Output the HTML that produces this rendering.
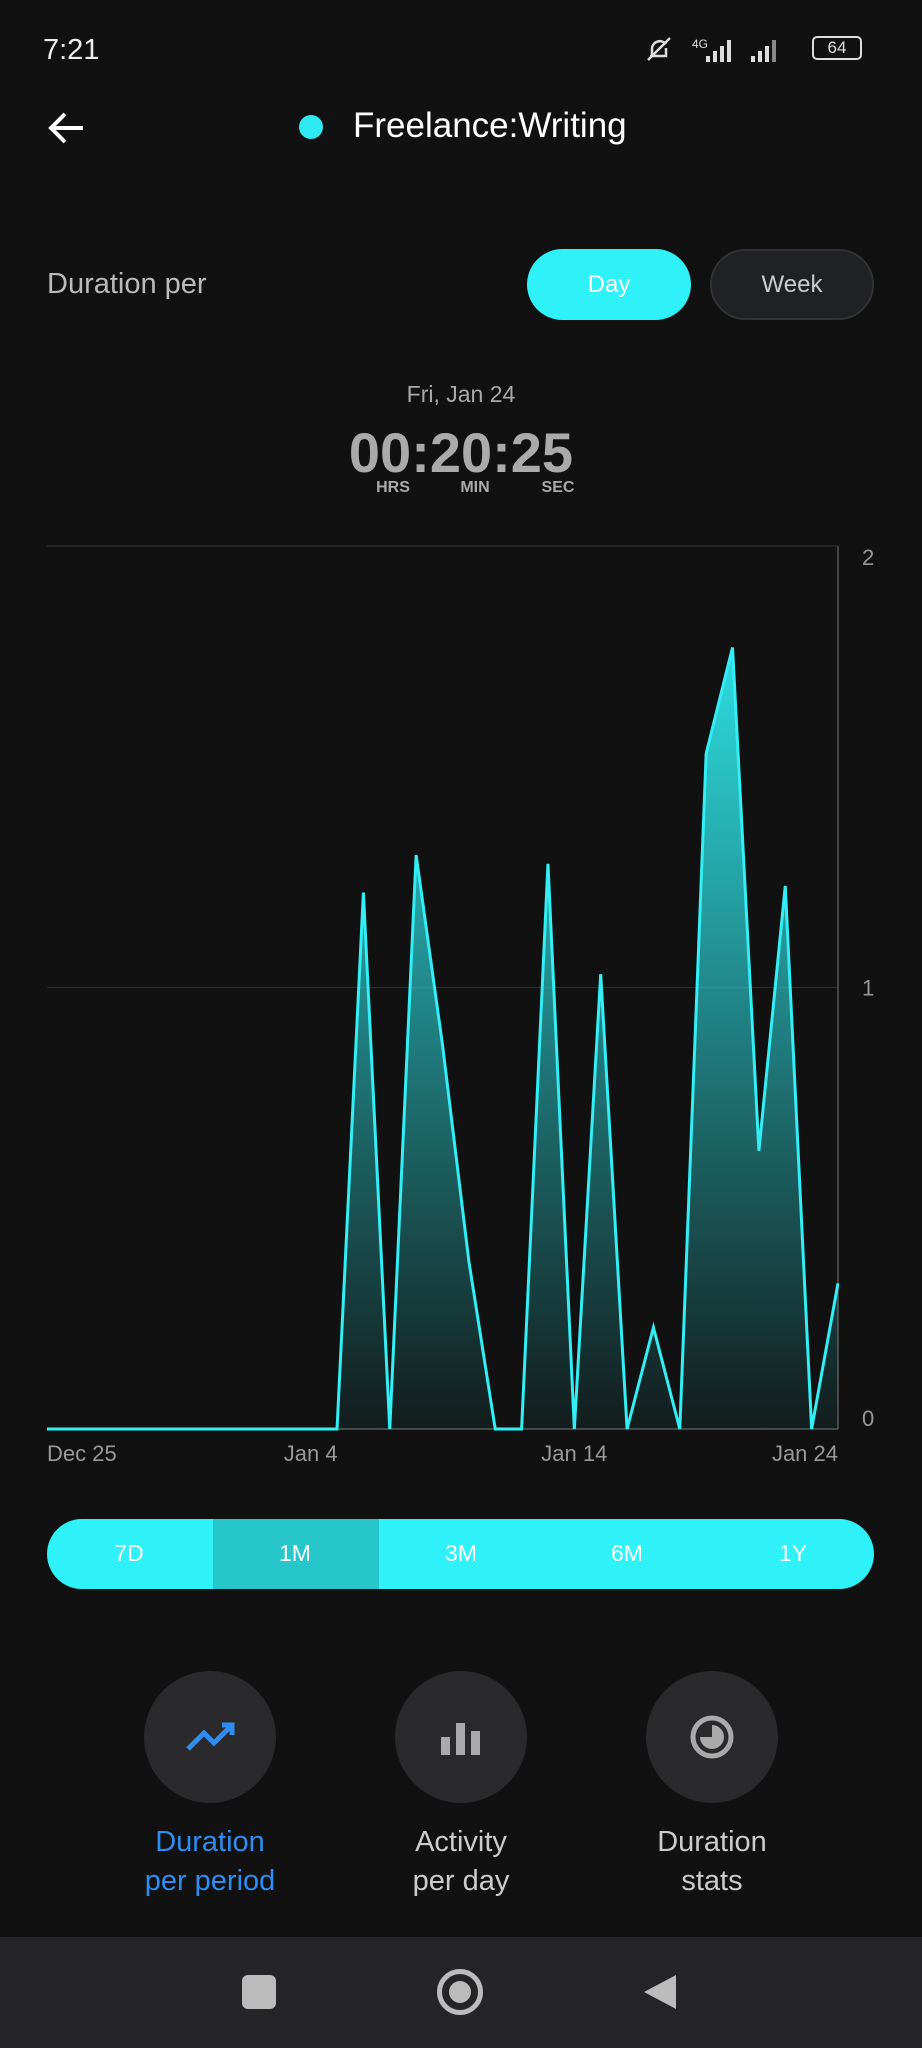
<!DOCTYPE html>
<html><head><meta charset="utf-8">
<style>
*{margin:0;padding:0;box-sizing:border-box}
body{width:922px;height:2048px;background:#111111;font-family:"Liberation Sans",sans-serif;position:relative;overflow:hidden;color:#ddd}
.abs{position:absolute}
</style></head>
<body>
<div class="abs" style="left:43px;top:34px;font-size:29px;color:#eee">7:21</div>
<div class="abs" style="left:640px;top:34px;width:240px;height:34px">
  <svg class="abs" style="left:0;top:0" width="170" height="34">
    <path d="M8 26L30 4M12 22V14A8 8 0 0 1 26 10M26 14V22H10" stroke="#ddd" stroke-width="2.5" fill="none"/>
    <text x="52" y="14" fill="#ddd" font-size="12" font-family="Liberation Sans">4G</text>
    <rect x="66" y="22" width="4" height="6" fill="#ddd"/><rect x="73" y="17" width="4" height="11" fill="#ddd"/><rect x="80" y="12" width="4" height="16" fill="#ddd"/><rect x="87" y="6" width="4" height="22" fill="#ddd"/>
    <rect x="111" y="22" width="4" height="6" fill="#ddd"/><rect x="118" y="17" width="4" height="11" fill="#ddd"/><rect x="125" y="12" width="4" height="16" fill="#ddd"/><rect x="132" y="6" width="4" height="22" fill="#888"/>
  </svg>
  <span style="position:absolute;left:172px;top:2px;width:50px;height:24px;border:2px solid #ddd;border-radius:5px;font-size:17px;text-align:center;line-height:20px;color:#ddd">64</span>
</div>
<svg class="abs" style="left:45px;top:108px" width="44" height="40"><path d="M38 20H6M20 6L6 20L20 34" stroke="#fff" stroke-width="4" fill="none"/></svg>
<div class="abs" style="left:299px;top:115px;width:24px;height:24px;border-radius:50%;background:#2ee8f2"></div>
<div class="abs" style="left:353px;top:106px;font-size:35px;color:#fff">Freelance:Writing</div>
<div class="abs" style="left:47px;top:268px;font-size:29px;color:#bbb">Duration per</div>
<div class="abs" style="left:527px;top:249px;width:164px;height:71px;border-radius:36px;background:#2ef2f7;color:#fff;font-size:24px;text-align:center;line-height:71px">Day</div>
<div class="abs" style="left:710px;top:249px;width:164px;height:71px;border-radius:36px;background:#202124;border:2px solid #333;color:#ccc;font-size:24px;text-align:center;line-height:67px">Week</div>
<div class="abs" style="left:0;width:922px;top:381px;text-align:center;font-size:23px;color:#aaa">Fri, Jan 24</div>
<div class="abs" style="left:0;width:922px;top:420px;text-align:center;font-size:56px;font-weight:bold;color:#aaa">00:20:25</div>
<div class="abs" style="left:373px;top:479px;width:40px;text-align:center;font-size:16px;font-weight:bold;color:#aaa">HRS</div>
<div class="abs" style="left:455px;top:479px;width:40px;text-align:center;font-size:16px;font-weight:bold;color:#aaa">MIN</div>
<div class="abs" style="left:538px;top:479px;width:40px;text-align:center;font-size:16px;font-weight:bold;color:#aaa">SEC</div>

<svg class="abs" id="chart" style="left:0;top:0" width="922" height="1480">
<defs><linearGradient id="g" x1="0" y1="0" x2="0" y2="1"><stop offset="0" stop-color="#2ee8ec" stop-opacity="0.95"/><stop offset="1" stop-color="#2ee8ec" stop-opacity="0.05"/></linearGradient></defs>
</svg>

<div class="abs" style="left:47px;top:1519px;width:827px;height:70px;border-radius:35px;background:#2ef2f7;overflow:hidden">
  <div class="abs" style="left:166px;top:0;width:166px;height:70px;background:#27c6ca"></div>
</div>
<div class="abs" style="left:89px;top:1540px;width:80px;text-align:center;font-size:23px;color:#fff">7D</div>
<div class="abs" style="left:255px;top:1540px;width:80px;text-align:center;font-size:23px;color:#fff">1M</div>
<div class="abs" style="left:421px;top:1540px;width:80px;text-align:center;font-size:23px;color:#fff">3M</div>
<div class="abs" style="left:587px;top:1540px;width:80px;text-align:center;font-size:23px;color:#fff">6M</div>
<div class="abs" style="left:753px;top:1540px;width:80px;text-align:center;font-size:23px;color:#fff">1Y</div>

<div class="abs" style="left:144px;top:1671px;width:132px;height:132px;border-radius:50%;background:#2a2a2d">
 <svg width="132" height="132"><path d="M44 78L60 62L70 72L88 54M78 54H88V64" stroke="#2f8cf0" stroke-width="5" fill="none"/></svg></div>
<div class="abs" style="left:395px;top:1671px;width:132px;height:132px;border-radius:50%;background:#2a2a2d">
 <svg width="132" height="132"><rect x="46" y="66" width="9" height="18" fill="#aaa"/><rect x="61" y="52" width="9" height="32" fill="#aaa"/><rect x="76" y="60" width="9" height="24" fill="#aaa"/></svg></div>
<div class="abs" style="left:646px;top:1671px;width:132px;height:132px;border-radius:50%;background:#2a2a2d">
 <svg width="132" height="132"><circle cx="66" cy="66" r="19" stroke="#aaa" stroke-width="5" fill="none"/><path d="M66 54A12 12 0 1 1 54 66L66 66Z" fill="#aaa"/></svg></div>
<div class="abs" style="left:110px;top:1823px;width:200px;text-align:center;font-size:29px;line-height:39px;color:#2f8cf0">Duration<br>per period</div>
<div class="abs" style="left:361px;top:1823px;width:200px;text-align:center;font-size:29px;line-height:39px;color:#ccc">Activity<br>per day</div>
<div class="abs" style="left:612px;top:1823px;width:200px;text-align:center;font-size:29px;line-height:39px;color:#ccc">Duration<br>stats</div>

<div class="abs" style="left:0;top:1937px;width:922px;height:111px;background:#252527">
 <div class="abs" style="left:242px;top:38px;width:34px;height:34px;border-radius:6px;background:#bbb"></div>
 <div class="abs" style="left:437px;top:32px;width:46px;height:46px;border-radius:50%;border:5px solid #bbb"><div style="margin:7px;width:22px;height:22px;border-radius:50%;background:#bbb"></div></div>
 <svg class="abs" style="left:642px;top:36px" width="36" height="38"><path d="M34 2V36L2 19Z" fill="#bbb"/></svg>
</div>

<script>
const days = ["Dec 25","Dec 26","Dec 27","Dec 28","Dec 29","Dec 30","Dec 31","Jan 1","Jan 2","Jan 3","Jan 4","Jan 5","Jan 6","Jan 7","Jan 8","Jan 9","Jan 10","Jan 11","Jan 12","Jan 13","Jan 14","Jan 15","Jan 16","Jan 17","Jan 18","Jan 19","Jan 20","Jan 21","Jan 22","Jan 23","Jan 24"];
const hours = [0,0,0,0,0,0,0,0,0,0,0,0,1.215,0,1.30,0.87,0.38,0,0,1.28,0,1.03,0,0.23,0,1.53,1.77,0.63,1.23,0,0.33];
const yTicks = [0,1,2];
const xTickLabels = ["Dec 25","Jan 4","Jan 14","Jan 24"];

const svg = document.getElementById('chart');
const NS = 'http://www.w3.org/2000/svg';
const L = 47, R = 838, T = 546, B = 1429, yMax = 2;
const x = i => L + (R - L) * i / (days.length - 1);
const y = v => B - (B - T) * v / yMax;
function mk(tag, attrs){const e=document.createElementNS(NS,tag);for(const k in attrs)e.setAttribute(k,attrs[k]);svg.appendChild(e);return e;}

yTicks.forEach(t=>{
  const g=mk('line',{x1:L,x2:R,y1:y(t),y2:y(t),stroke:'#2c2c2c','stroke-width':1.2});
  
  
  const off = (2*t/yMax - 1) * 11;
  const tx=mk('text',{x:862,y:y(t)+off+8,fill:'#999','font-size':22,'font-family':'Liberation Sans'});
  tx.textContent=t;
  
  
});
const ax=mk('line',{x1:R,x2:R,y1:T,y2:B,stroke:'#555','stroke-width':1.5});


const bx=mk('line',{x1:L,x2:R,y1:B,y2:B,stroke:'#555','stroke-width':1.5});



let pts = hours.map((v,i)=>x(i)+','+y(v)).join(' ');
const area=mk('polygon',{points:x(0)+','+B+' '+pts+' '+x(hours.length-1)+','+B,fill:'url(#g)'});


const line=mk('polyline',{points:pts,fill:'none',stroke:'#33eef5','stroke-width':3,'stroke-linejoin':'miter'});



xTickLabels.forEach((lab,k)=>{
  const i=days.indexOf(lab);
  let anchor='middle';
  if(k===0)anchor='start';
  if(k===xTickLabels.length-1)anchor='end';
  const tx=mk('text',{x:x(i),y:1461,fill:'#999','font-size':22,'font-family':'Liberation Sans','text-anchor':anchor});
  tx.textContent=lab;
  
  
});
</script>
</body></html>
